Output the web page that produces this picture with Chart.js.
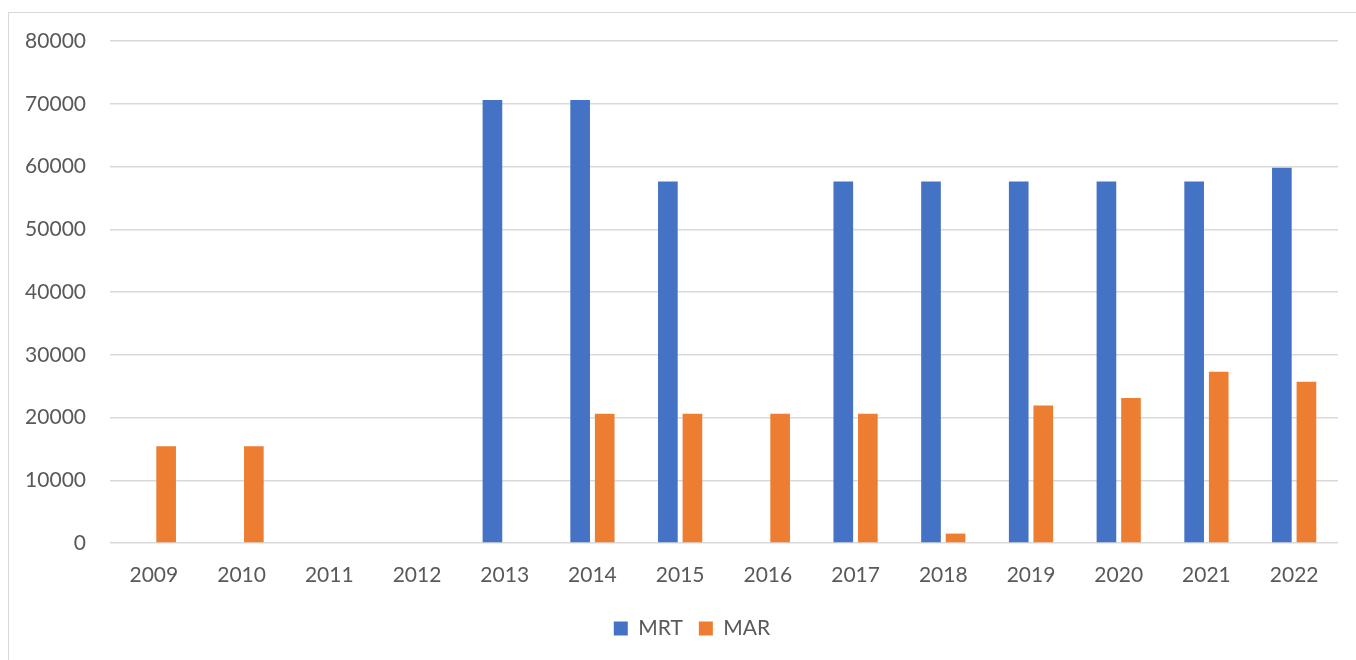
<!DOCTYPE html>
<html>
<head>
<meta charset="utf-8">
<script src="https://cdn.jsdelivr.net/npm/chart.js@4"></script>
<style>
    body { margin: 0; background: #fff; }
    #frame {
        position: absolute; left: 8px; top: 12px;
        width: 1360px; height: 660px;
        border: 1px solid #d9d9d9;
    }
    #wrap { position: absolute; left: 0; top: 0; width: 1356px; height: 660px; }
</style>
</head>
<body>
<div id="frame"></div>
<div id="wrap"><canvas id="chart" width="1356" height="660"></canvas></div>
<script>
const years = ['2009', '2010', '2011', '2012', '2013', '2014', '2015', '2016', '2017', '2018', '2019', '2020', '2021', '2022'];
const mrt = [null, null, null, null, 70600, 70600, 57600, null, 57600, 57600, 57600, 57600, 57600, 59800];
const mar = [15400, 15400, null, null, null, 20600, 20600, 20600, 20600, 1500, 21900, 23100, 27300, 25700];
const yTicks = [0, 10000, 20000, 30000, 40000, 50000, 60000, 70000, 80000];

const fontFamily = 'Lato, "Open Sans", sans-serif';
const textColor = '#595959';

// the legend sits a bit right of the canvas centre in the original
const legendShift = {
    id: 'legendShift',
    afterLayout(chart) {
        if (chart.legend) {
            chart.legend.left += 23;
            chart.legend.right += 23;
        }
    }
};

const chart = new Chart('chart', {
    type: 'bar',
    data: {
        labels: years,
        datasets: [{
            label: 'MRT',
            data: mrt,
            backgroundColor: '#4472C4',
            categoryPercentage: 0.56,
            barPercentage: 0.8
        }, {
            label: 'MAR',
            data: mar,
            backgroundColor: '#ED7D31',
            categoryPercentage: 0.56,
            barPercentage: 0.8
        }]
    },
    plugins: [legendShift],
    options: {
        responsive: false,
        animation: false,
        layout: {
            padding: { left: 0, right: 18, top: 41, bottom: 11 }
        },
        plugins: {
            tooltip: { enabled: false },
            legend: {
                position: 'bottom',
                labels: {
                    color: textColor,
                    font: { family: fontFamily, size: 21 },
                    boxWidth: 14,
                    boxHeight: 14,
                    padding: 16
                }
            }
        },
        scales: {
            x: {
                grid: { display: false },
                border: { display: false },
                ticks: {
                    color: textColor,
                    font: { family: fontFamily, size: 21 },
                    padding: 12
                },
                afterFit: (scale) => { scale.height = 59; }
            },
            y: {
                min: 0,
                max: 80000,
                afterBuildTicks: (scale) => {
                    scale.ticks = yTicks.map(v => ({ value: v }));
                },
                grid: { color: '#d9d9d9', lineWidth: 1.5, drawTicks: false },
                border: { display: false },
                ticks: {
                    color: textColor,
                    font: { family: fontFamily, size: 21 },
                    padding: 24,
                    callback: (v) => String(v)
                },
                afterFit: (scale) => { scale.width = 110; }
            }
        }
    }
});
</script>
</body>
</html>
